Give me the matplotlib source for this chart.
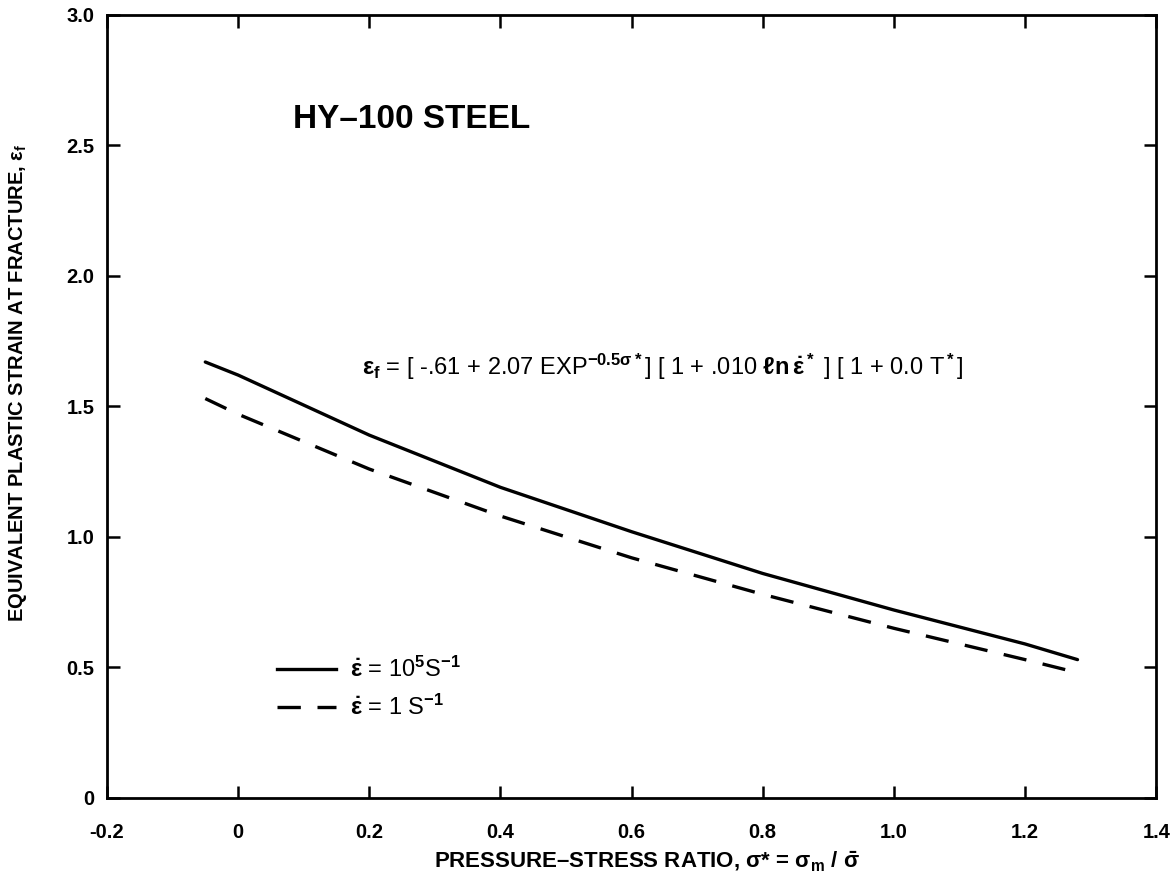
import matplotlib
matplotlib.use("Agg")
import matplotlib.pyplot as plt

plt.rcParams['font.family'] = ['Liberation Sans', 'DejaVu Sans']
plt.rcParams['mathtext.fontset'] = 'custom'
plt.rcParams['mathtext.rm'] = 'Liberation Sans:bold'
plt.rcParams['mathtext.it'] = 'Liberation Sans:bold'
plt.rcParams['mathtext.bf'] = 'Liberation Sans:bold'
plt.rcParams['mathtext.sf'] = 'Liberation Sans:bold'

# Data
sigma_star = [-0.05, 0.0, 0.2, 0.4, 0.6, 0.8, 1.0, 1.2, 1.28]
strain_1e5 = [1.67, 1.62, 1.39, 1.19, 1.02, 0.86, 0.72, 0.59, 0.53]
strain_1 = [1.53, 1.47, 1.26, 1.08, 0.92, 0.78, 0.65, 0.53, 0.48]

xticks = [-0.2, 0, 0.2, 0.4, 0.6, 0.8, 1.0, 1.2, 1.4]
xticklabels = ['-0.2', '0', '0.2', '0.4', '0.6', '0.8', '1.0', '1.2', '1.4']
yticks = [0, 0.5, 1.0, 1.5, 2.0, 2.5, 3.0]
yticklabels = ['0', '0.5', '1.0', '1.5', '2.0', '2.5', '3.0']

fig = plt.figure(figsize=(11.75, 8.91), dpi=100)
ax = fig.add_axes([0.091, 0.1044, 0.893, 0.879])

ax.plot(sigma_star, strain_1e5, color='black', lw=2.4, solid_capstyle='round')
ax.plot(sigma_star, strain_1, color='black', lw=2.4, dashes=(7, 5))

ax.set_xlim(-0.2, 1.4)
ax.set_ylim(0, 3.0)
ax.set_xticks(xticks)
ax.set_xticklabels(xticklabels, fontsize=14.5, fontweight='bold')
ax.set_yticks(yticks)
ax.set_yticklabels(yticklabels, fontsize=14.5, fontweight='bold')
ax.tick_params(direction='in', top=True, right=True, length=9, width=1.8)
ax.tick_params(axis='x', pad=18)
ax.tick_params(axis='y', pad=9)
for s in ax.spines.values():
    s.set_linewidth(2.0)

ax.set_xlabel(r"PRESSURE–STRESS RATIO, $\sigma$* = $\sigma_m$ / $\bar{\sigma}$",
              fontsize=16, fontweight='bold', va='center')
ax.xaxis.set_label_coords(0.515, -0.082)
ax.set_ylabel(r"EQUIVALENT PLASTIC STRAIN AT FRACTURE, $\varepsilon_f$",
              fontsize=14.5, fontweight='bold', va='center')
ax.yaxis.set_label_coords(-0.085, 0.53)

ax.text(0.084, 2.60, "HY–100 STEEL", fontsize=24, fontweight='bold', va='center', ha='left')
ax.text(0.189, 1.65,
        r"$\varepsilon_f$ = [ -.61 + 2.07 EXP$^{-0.5\sigma*}$] [ 1 + .010 $\ell n\,\dot{\varepsilon}^*$ ] [ 1 + 0.0 T$^*$]",
        fontsize=17, va='center', ha='left')

# legend drawn manually
ax.plot([0.06, 0.15], [0.494, 0.494], color='black', lw=2.4)
ax.plot([0.06, 0.15], [0.349, 0.349], color='black', lw=2.4, dashes=(7, 5))
ax.text(0.171, 0.494, r"$\dot{\varepsilon}$ = 10$^5$S$^{-1}$", fontsize=17, va='center', ha='left')
ax.text(0.171, 0.349, r"$\dot{\varepsilon}$ = 1 S$^{-1}$", fontsize=17, va='center', ha='left')

fig.savefig("out.png", dpi=100, facecolor='white')
